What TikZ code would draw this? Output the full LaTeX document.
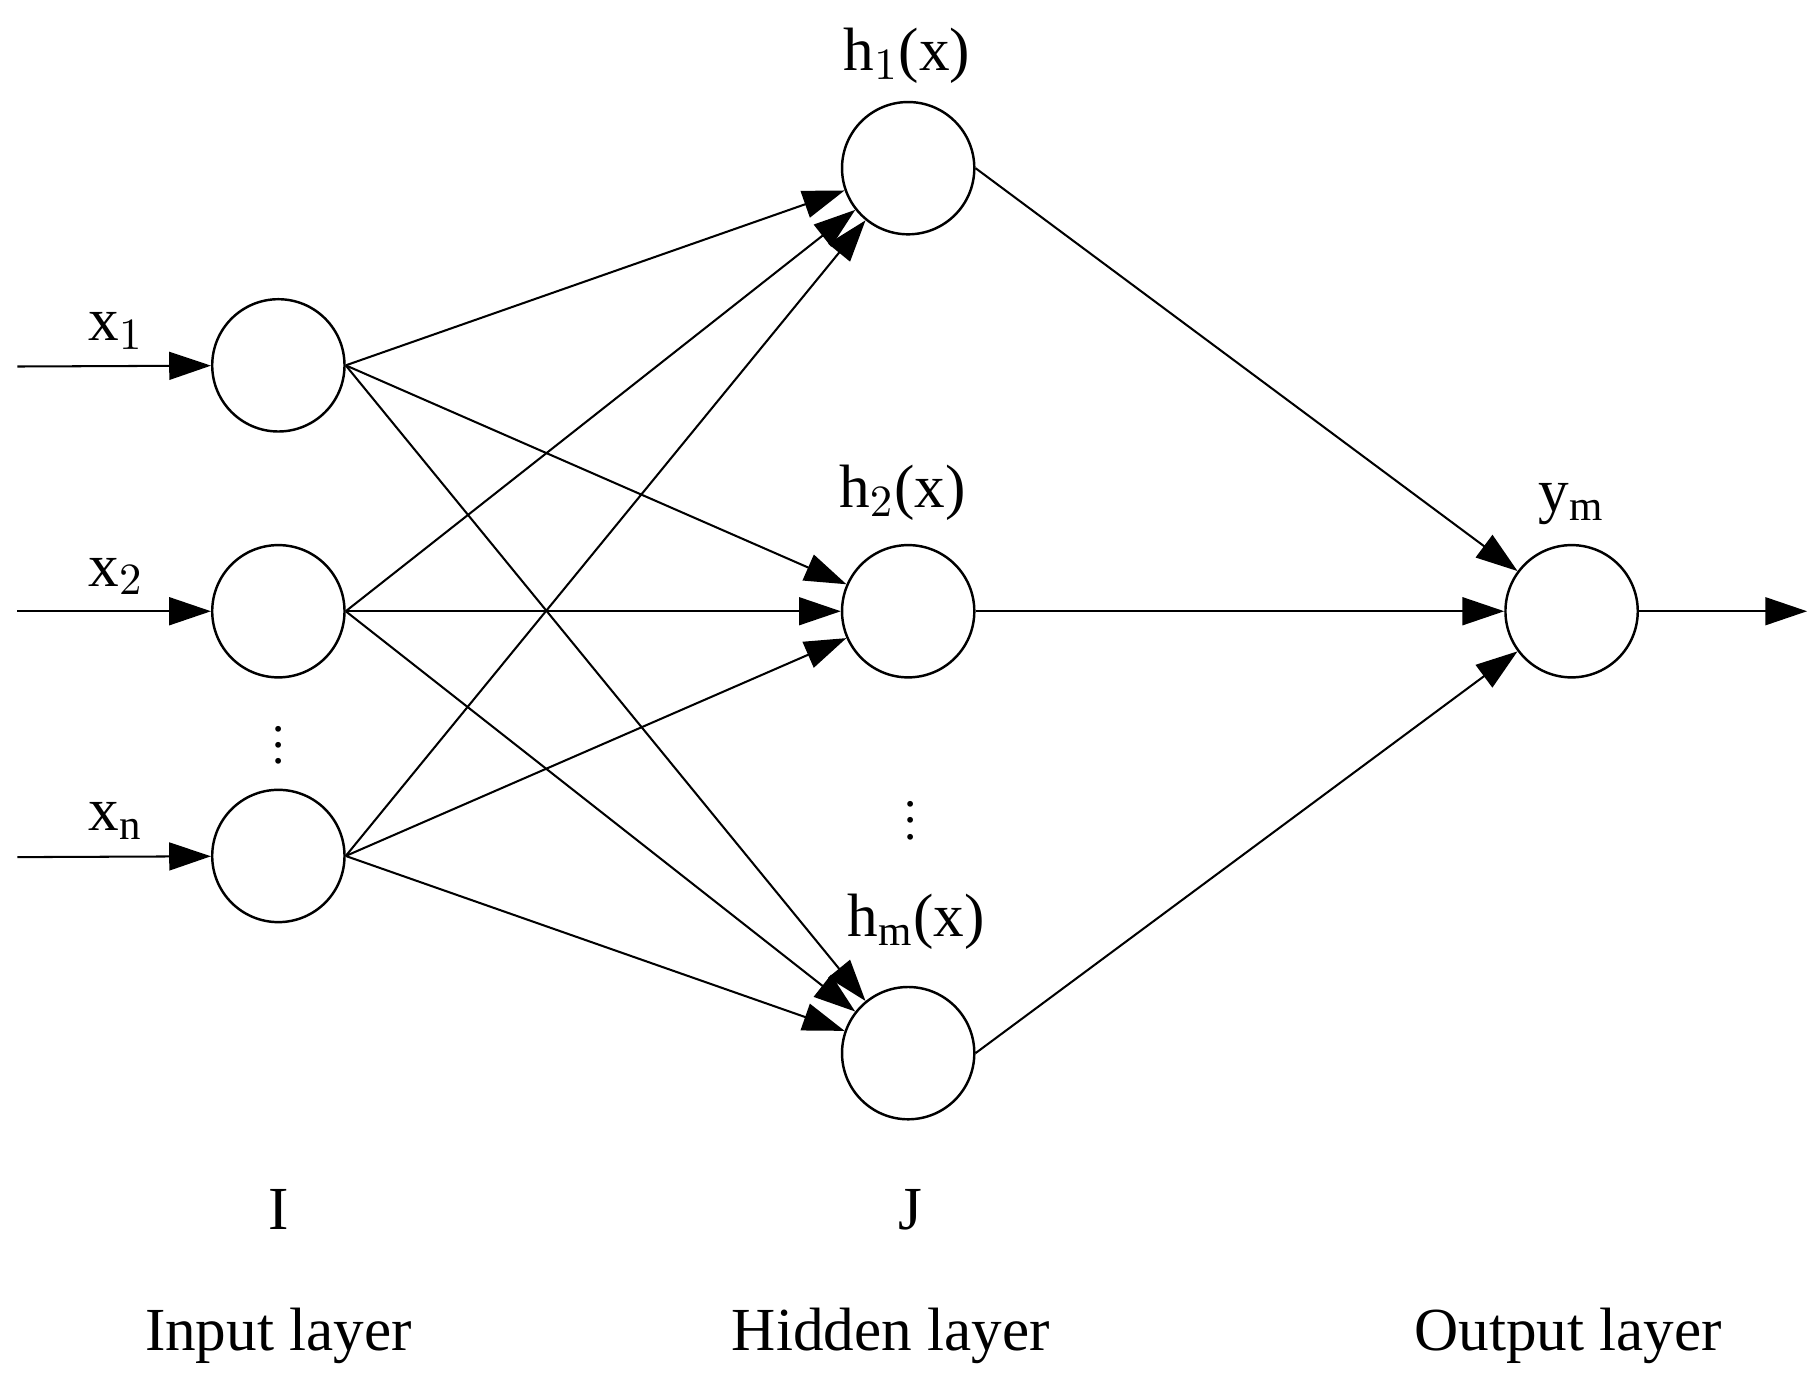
\documentclass[tikz,border=0pt]{standalone}
\usepackage{fontspec}
\setmainfont{Liberation Serif}
\usetikzlibrary{arrows.meta}
\begin{document}
\begin{tikzpicture}[x=0.01cm, y=-0.01cm, every node/.style={font=\fontsize{15}{18}\selectfont},
  neuron/.style={circle, draw, line width=0.6pt, minimum size=1.14cm, inner sep=0pt},
  conn/.style={line width=0.5pt, -{Triangle[length=0.36cm, width=0.24cm]}}]

\useasboundingbox (0,0) rectangle (1564,1197);

% Neurons
\node[neuron] (i1) at (240,315) {};
\node[neuron] (i2) at (240,527) {};
\node[neuron] (in) at (240,738) {};
\node[neuron] (h1) at (783,145) {};
\node[neuron] (h2) at (783,527) {};
\node[neuron] (hm) at (783,908) {};
\node[neuron] (o)  at (1355,527) {};

\coordinate (s1) at (15,316);
\coordinate (s2) at (15,527);
\coordinate (sn) at (15,739);
\coordinate (e)  at (1558,527);

% Inputs and output
\draw[conn] (s1) -- (i1);
\draw[conn] (s2) -- (i2);
\draw[conn] (sn) -- (in);
\draw[conn] (o) -- (e);

% Connections
\foreach \a in {i1,i2,in}
  \foreach \b in {h1,h2,hm}
  {
     \draw[conn] (\a.east) -- (\b);
  }
\foreach \b in {h1,h2,hm}
{
   \draw[conn] (\b.east) -- (o);
}

% Labels
\node (lx1) at (100,285) {x$_1$};
\node (lx2) at (100,497) {x$_2$};
\node (lxn) at (100,708) {x$_\mathrm{n}$};
\node (lh1) at (782,48)  {h$_1$(x)};
\node (lh2) at (778,425) {h$_2$(x)};
\node (lhm) at (790,795) {h$_\mathrm{m}$(x)};
\node (lym) at (1355,435) {y$_\mathrm{m}$};
\node[inner sep=0pt] (di) at (240,632) {\fontsize{12}{12}\selectfont$\vdots$};
\node[inner sep=0pt] (dh) at (785,697) {\fontsize{12}{12}\selectfont$\vdots$};
\node (lI) at (240,1043) {I};
\node (lJ) at (785,1043) {J};
\node (li) at (240,1152) {Input layer};
\node (lh) at (768,1152) {Hidden layer};
\node (lo) at (1352,1152) {Output layer};
\end{tikzpicture}
\end{document}
